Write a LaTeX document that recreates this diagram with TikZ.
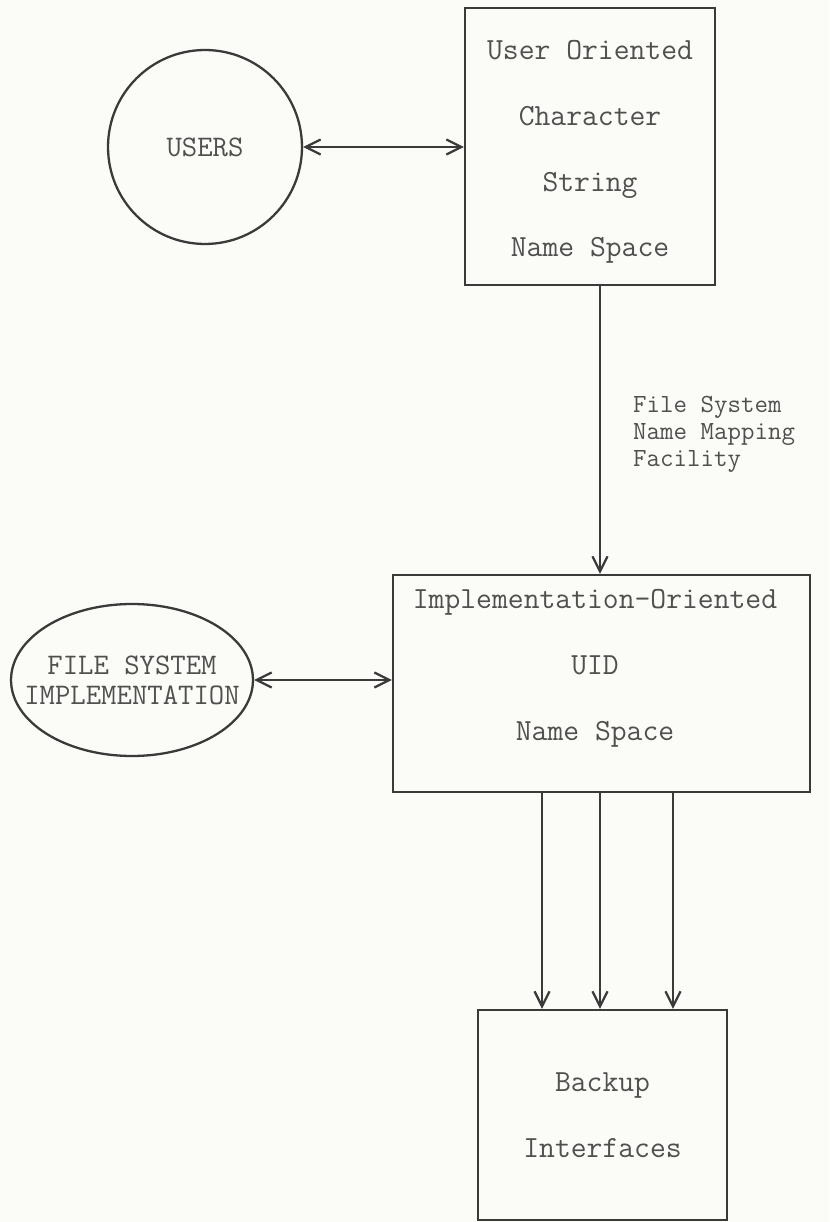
\documentclass[tikz,border=0pt]{standalone}
\usepackage{fontspec}
\usetikzlibrary{arrows.meta,positioning,shapes.geometric}
\definecolor{paper}{RGB}{251,251,247}
\definecolor{ink}{RGB}{58,58,58}
\definecolor{type}{RGB}{80,80,80}

\begin{document}
\begin{tikzpicture}[
  x=0.02cm, y=-0.02cm,
  box/.style={draw=ink, line width=1.3pt, rectangle},
  txt/.style={align=center, text=type, font=\fontsize{17.5}{37.5}\selectfont\ttfamily},
  blob/.style={draw=ink, line width=1.3pt, ellipse, align=center, text=type,
    font=\fontsize{17}{17}\selectfont\ttfamily},
  note/.style={align=left, text=type, font=\fontsize{14.9}{15.3}\selectfont\ttfamily},
  ar/.style={-{Straight Barb[length=3mm,width=3mm]}, draw=ink, line width=1.3pt},
  dar/.style={{Straight Barb[length=3mm,width=3mm]}-{Straight Barb[length=3mm,width=3mm]}, draw=ink, line width=1.3pt},
]
\fill[paper] (0,0) rectangle (829,1222);
\useasboundingbox (0,0) rectangle (829,1222);

%==== Users and character string name space ====
\node[blob, circle, minimum size=3.88cm, inner sep=0pt] (users) at (205,147) {USERS};
\node[box, minimum width=5cm, minimum height=5.54cm] (uos) at (590,146.5) {};
\node[txt] (uostext) at (590,152) {User Oriented\\Character\\String\\Name Space};
\draw[dar] (users.east) -- (users.east -| uos.west);

%==== Implementation oriented name space ====
\node[box, minimum width=8.34cm, minimum height=4.34cm] (uid) at (601.5,683.5) {};
\node[txt] (uidtext) at (595,668) {Implementation-Oriented\\UID\\Name Space};
\node[blob, inner xsep=-0.6cm, inner ysep=0pt, minimum width=4.84cm, minimum height=3.04cm]
  (fsi) at (132,680) {FILE SYSTEM\\IMPLEMENTATION};
\draw[dar] (fsi.east) -- (fsi.east -| uid.west);

\draw[ar] ([xshift=0.2cm]uos.south) -- ([xshift=0.2cm]uos.south |- uid.north);
\node[note, anchor=west] (mapnote) at (627,434) {File System\\Name Mapping\\Facility};

%==== Backup interfaces ====
\node[box, minimum width=4.98cm, minimum height=4.2cm] (backup) at (602.5,1115) {};
\node[txt] (backuptext) at (backup) {Backup\\Interfaces};
\foreach \dx in {-1.21,-0.05,1.41}
  \draw[ar] ([xshift=\dx cm]backup.north |- uid.south) -- ([xshift=\dx cm]backup.north);

\end{tikzpicture}
\end{document}
